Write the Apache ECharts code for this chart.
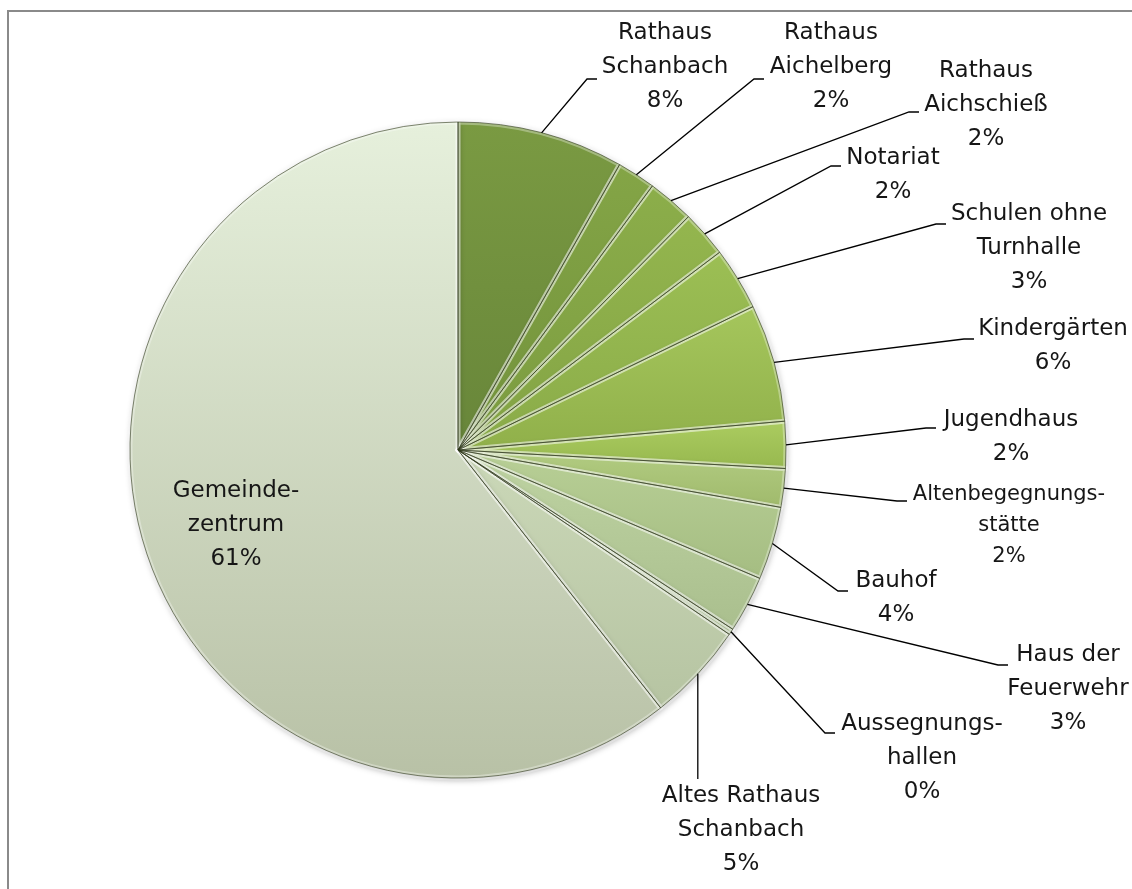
<!DOCTYPE html>
<html>
<head>
<meta charset="utf-8">
<title>Energieverbrauch Gebäude</title>
<script src="https://cdn.jsdelivr.net/npm/echarts@6/dist/echarts.min.js"></script>
<style>
  html, body { margin: 0; padding: 0; background: #fff; }
  #chart { width: 1132px; height: 889px; }
</style>
</head>
<body>
<div id="chart"></div>
<script>
// Building names (clockwise from 12 o'clock) and their share in percent
const categories = [
  'Rathaus\nSchanbach',
  'Rathaus\nAichelberg',
  'Rathaus\nAichschieß',
  'Notariat',
  'Schulen ohne\nTurnhalle',
  'Kindergärten',
  'Jugendhaus',
  'Altenbegegnungs-\nstätte',
  'Bauhof',
  'Haus der\nFeuerwehr',
  'Aussegnungs-\nhallen',
  'Altes Rathaus\nSchanbach',
  'Gemeinde-\nzentrum'
];
const shares = [8.2, 1.9, 2.3, 2.3, 3.1, 5.8, 2.3, 1.9, 3.6, 2.8, 0.3, 4.9, 60.6];

// Fill colours per slice: top and bottom of the vertical gradient
const colorTop    = ['#7a9a42', '#84a546', '#8cae4a', '#94b64e', '#9cbf54', '#a5c65c', '#abcc60',
                     '#b2cc82', '#b8cf96', '#bed3a2', '#c3d5ac', '#cbd8b8', '#e6f0dc'];
const colorBottom = ['#68863a', '#72923c', '#7a9a40', '#82a244', '#89aa48', '#90b04a', '#97b84f',
                     '#a0ba6c', '#a5bd82', '#aabf8e', '#b0c29a', '#b6c4a2', '#b8c1a6'];

// Label placement: centre of text block [x, y]
const labelPos = [
  [665, 67], [831, 67], [986, 105], [893, 175], [1029, 248], [1053, 346], [1011, 437],
  [1009, 526], [896, 598], [1068, 689], [922, 758], [741, 830], [236, 525]
];
// Leader line end point at the text; null = no leader, 'down' = vertical drop to y
const leaderEnd = [
  [597, 79], [764, 79], [919, 112], [841, 166], [946, 224], [974, 339], [936, 428],
  [907, 501], [848, 591], [1008, 665], [835, 733], ['down', 779], null
];

const PIE_CENTER = [458, 450];
const PIE_RADIUS = 328;
const FONT = 'DejaVu Sans';

const chart = echarts.init(document.getElementById('chart'), null, { renderer: 'canvas' });

const fillData = categories.map((name, i) => {
  const item = {
    name: name,
    value: shares[i],
    itemStyle: {
      color: new echarts.graphic.LinearGradient(0, 0, 0, 1, [
        { offset: 0, color: colorTop[i] },
        { offset: 1, color: colorBottom[i] }
      ])
    }
  };
  if (i === 7) {
    item.label = { fontSize: 21, lineHeight: 31 };
  }
  return item;
});
const plainData = categories.map((name, i) => ({ name: name, value: shares[i] }));

// Shared geometry for the fill and the two edge passes
const pieBase = {
  type: 'pie',
  center: PIE_CENTER,
  radius: PIE_RADIUS,
  startAngle: 90,
  clockwise: true,
  avoidLabelOverlap: false,
  silent: true
};

chart.setOption({
  animation: false,
  backgroundColor: '#ffffff',
  series: [
    Object.assign({}, pieBase, {
      data: fillData,
      z: 2,
      itemStyle: {
        borderWidth: 0,
        shadowColor: 'rgba(0,0,0,0.32)',
        shadowBlur: 6,
        shadowOffsetX: 1,
        shadowOffsetY: 2
      },
      label: {
        show: true,
        position: 'outside',
        fontFamily: FONT,
        fontSize: 23,
        lineHeight: 34,
        color: '#161616',
        align: 'center',
        formatter: p => p.name + '\n' + Math.round(p.percent) + '%'
      },
      labelLine: { show: false },
      labelLayout: p => ({
        x: labelPos[p.dataIndex][0],
        y: labelPos[p.dataIndex][1],
        align: 'center',
        verticalAlign: 'middle'
      })
    }),
    // soft light bevel along every slice edge
    Object.assign({}, pieBase, {
      data: plainData,
      z: 3,
      itemStyle: {
        color: 'rgba(0,0,0,0)',
        borderColor: 'rgba(255,255,255,0.32)',
        borderWidth: 5
      },
      label: { show: false },
      labelLine: { show: false }
    }),
    // thin dark seam
    Object.assign({}, pieBase, {
      data: plainData,
      z: 4,
      itemStyle: {
        color: 'rgba(0,0,0,0)',
        borderColor: 'rgba(45,55,25,0.6)',
        borderWidth: 1
      },
      label: { show: false },
      labelLine: { show: false }
    })
  ]
});

// Leader lines from the middle of each slice's arc to its label
const data = chart.getModel().getSeriesByIndex(0).getData();
const graphics = [{
  type: 'rect',
  silent: true,
  z: -1,
  shape: { x: 8, y: 11, width: 1300, height: 1000 },
  style: { fill: 'none', stroke: '#8a8a8a', lineWidth: 2 }
}];
leaderEnd.forEach((end, i) => {
  if (!end) return;
  const lay = data.getItemLayout(i);
  const mid = (lay.startAngle + lay.endAngle) / 2;
  const sx = lay.cx + lay.r * Math.cos(mid);
  const sy = lay.cy + lay.r * Math.sin(mid);
  let pts;
  if (end[0] === 'down') {
    pts = [[sx, sy], [sx, end[1]]];
  } else {
    pts = [[sx, sy], [end[0] - 10, end[1]], [end[0], end[1]]];
  }
  graphics.push({
    type: 'polyline',
    silent: true,
    z: 10,
    shape: { points: pts },
    style: { stroke: '#000000', lineWidth: 1.3, fill: null }
  });
});
chart.setOption({ graphic: graphics });
</script>
</body>
</html>
